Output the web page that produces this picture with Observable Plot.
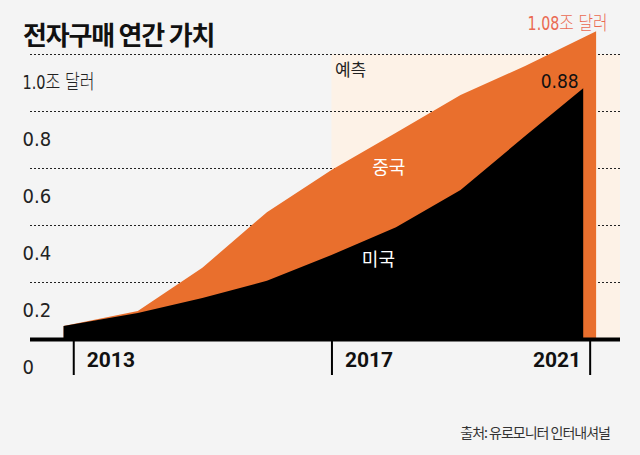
<!DOCTYPE html>
<html>
<head>
<meta charset="utf-8">
<script src="https://cdn.jsdelivr.net/npm/d3@7"></script>
<script src="https://cdn.jsdelivr.net/npm/@observablehq/plot@0.6"></script>
<style>
  html, body { margin: 0; padding: 0; background: #f4f4f4; }
  #wrap { position: relative; width: 640px; height: 455px; overflow: hidden; }
  #chart { position: absolute; left: 0; top: 0; }
  #chart svg text.narrow { font-stretch: condensed; }
  #title { position: absolute; left: 23px; top: 19px; margin: 0; font: 700 26px/30px "Noto Sans CJK KR", sans-serif; letter-spacing: -1.2px; color: #111; }
  #source { position: absolute; right: 30px; top: 422px; margin: 0; font: 400 14px/20px "Noto Sans CJK KR", sans-serif; letter-spacing: -1px; color: #333; }
</style>
</head>
<body>
<div id="wrap">
  <div id="chart"></div>
  <h1 id="title">전자구매 연간 가치</h1>
  <p id="source">출처: 유로모니터 인터내셔널</p>
</div>
<script>
// 미국 (black area) – years and values in trillion dollars
const usYears = [2012.85, 2014, 2015, 2016, 2017, 2018, 2019, 2020, 2020.9];
const usValues = [0.046, 0.091, 0.144, 0.204, 0.295, 0.392, 0.523, 0.712, 0.88];
// 미국 + 중국 total (orange area top)
const totalYears = [2012.85, 2014, 2015, 2016, 2017, 2018, 2019, 2020, 2021.1];
const totalValues = [0.046, 0.098, 0.25, 0.445, 0.593, 0.724, 0.856, 0.958, 1.08];
// axes
const xTicks = [2013, 2017, 2021];
const yTicks = [0, 0.2, 0.4, 0.6, 0.8, 1.0];
const yTickLabels = ["0", "0.2", "0.4", "0.6", "0.8", "1.0조 달러"];
const gridValues = [0.2, 0.4, 0.6, 0.8, 1.0];
const forecastStart = 2017;

const usData = usYears.map((x, i) => ({x, y: usValues[i]}));
const totalData = totalYears.map((x, i) => ({x, y: totalValues[i]}));

const narrow = '"DejaVu Sans Condensed", "DejaVu Sans", "Noto Sans CJK KR", sans-serif';
const kr = '"Noto Sans CJK KR", sans-serif';

const chart = Plot.plot({
  width: 640,
  height: 400,
  marginLeft: 30,
  marginRight: 20,
  marginTop: 54,
  marginBottom: 61,
  style: {background: "transparent", overflow: "visible", fontFamily: kr},
  x: {domain: [2012.33, 2021.47], axis: null},
  y: {domain: [0, 1], axis: null},
  marks: [
    Plot.rect([forecastStart], {x1: d => d, x2: 2021.47, y1: 0, y2: 1, fill: "#fdf2e7"}),
    Plot.ruleY(gridValues, {stroke: "#222", strokeWidth: 1, strokeDasharray: "2,2"}),
    Plot.areaY(totalData, {x: "x", y1: 0, y2: "y", fill: "#e96f2d"}),
    Plot.areaY(usData, {x: "x", y1: 0, y2: "y", fill: "#000"}),
    Plot.ruleY([0], {stroke: "#000", strokeWidth: 4}),
    Plot.axisX(xTicks, {tickSize: 36, strokeWidth: 2, stroke: "#000", tickFormat: () => "", label: null}),
    Plot.text(xTicks.filter(d => d < 2021), {x: d => d, text: d => String(d), frameAnchor: "bottom", dx: 13, dy: 27, textAnchor: "start", fontSize: 21, fontWeight: 700, fontFamily: "Roboto", fill: "#111"}),
    Plot.text(xTicks.filter(d => d >= 2021), {x: d => d, text: d => String(d), frameAnchor: "bottom", dx: -9, dy: 27, textAnchor: "end", fontSize: 21, fontWeight: 700, fontFamily: "Roboto", fill: "#111"}),
    Plot.text(yTicks, {y: d => d, text: (d, i) => yTickLabels[i], frameAnchor: "left", dx: -8, dy: 28, textAnchor: "start", fontSize: 20, fontWeight: 300, letterSpacing: -1, fontFamily: narrow, className: "narrow", fill: "#222"}),
    Plot.text(["예측"], {x: forecastStart, y: 1, text: d => d, dx: 3, dy: 16, textAnchor: "start", fontSize: 17, fontFamily: kr, fill: "#222"}),
    Plot.text(["중국"], {x: 2017.88, y: 0.6, text: d => d, fontSize: 18, fontFamily: kr, fill: "#fff"}),
    Plot.text(["미국"], {x: 2017.72, y: 0.277, text: d => d, fontSize: 18, fontFamily: kr, fill: "#fff"}),
    Plot.text([usValues[usValues.length - 1]], {x: usYears[usYears.length - 1], y: d => d, text: d => d.toFixed(2), dx: -5, dy: -7, textAnchor: "end", fontSize: 19, fontWeight: 300, letterSpacing: -1, fontFamily: narrow, className: "narrow", fill: "#111"}),
    Plot.text([totalValues[totalValues.length - 1]], {x: totalYears[totalYears.length - 1], y: d => d, text: d => d.toFixed(2) + "조 달러", dx: 11, dy: -8, textAnchor: "end", fontSize: 19, fontWeight: 300, letterSpacing: -1, fontFamily: narrow, className: "narrow", fill: "#ea6a52"})
  ]
});
// condense the mixed digit/Hangul unit labels to the reference's narrow width
const unitWidths = {"1.0조 달러": 72, "1.08조 달러": 80};
d3.select(chart).selectAll("text").each(function () {
  const w = unitWidths[this.textContent];
  if (w) {
    this.setAttribute("textLength", w);
    this.setAttribute("lengthAdjust", "spacingAndGlyphs");
    this.setAttribute("letter-spacing", "0");
  }
});
document.getElementById("chart").append(chart);
</script>
</body>
</html>
